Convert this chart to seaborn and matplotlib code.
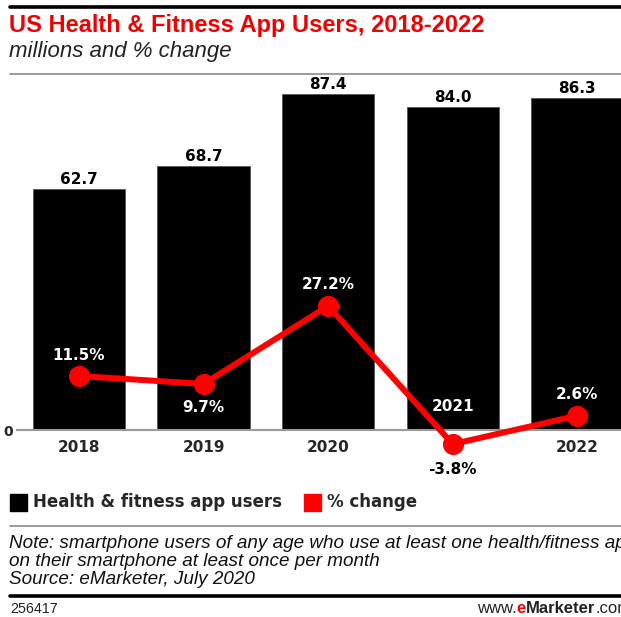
import matplotlib
matplotlib.use("Agg")
import matplotlib.pyplot as plt
import seaborn as sns
import pandas as pd
from matplotlib.lines import Line2D
from matplotlib.patches import Rectangle

years = ["2018", "2019", "2020", "2021", "2022"]
users = [62.7, 68.7, 87.4, 84.0, 86.3]
pct_change = [11.5, 9.7, 27.2, -3.8, 2.6]
user_labels = ["62.7", "68.7", "87.4", "84.0", "86.3"]
pct_labels = ["11.5%", "9.7%", "27.2%", "-3.8%", "2.6%"]
title = "US Health & Fitness App Users, 2018-2022"
subtitle = "millions and % change"
legend_labels = ["Health & fitness app users", "% change"]
notes = ["Note: smartphone users of any age who use at least one health/fitness app",
         "on their smartphone at least once per month",
         "Source: eMarketer, July 2020"]
footer_id = "256417"
footer_site = ["www.", "e", "Marketer", ".com"]

sns.set_theme(style="white")
plt.rcParams['font.family'] = ['DejaVu Sans']

W, H = 621, 617
fig = plt.figure(figsize=(W / 100, H / 100), dpi=100)
fig.patch.set_facecolor("white")

def fx(x):
    return x / W

def fy(y):
    return 1 - y / H

RED = "#ff0000"

# axes: x from -0.5..4.5 maps to px 16.7..639 ; y baseline at 430
left_px, right_px = 16.7, 639.7
bottom_px, top_px = 430, 65
ax = fig.add_axes([fx(left_px), fy(bottom_px), (right_px - left_px) / W, (bottom_px - top_px) / H])
ymax = (bottom_px - top_px) / 3.845
df = pd.DataFrame({"year": years, "users": users, "pct": pct_change})
sns.barplot(data=df, x="year", y="users", color="black", saturation=1, width=0.74, ax=ax,
            edgecolor="#555555", linewidth=0.6)
ax.set_xlim(-0.5, 4.5)
ax.set_ylim(0, ymax)
for s in ["top", "right", "left"]:
    ax.spines[s].set_visible(False)
ax.spines["bottom"].set_color("#9a9a9a")
ax.spines["bottom"].set_linewidth(1.5)
ax.set_yticks([0])
ax.set_yticklabels(["0"], fontweight="bold", fontsize=10)
ax.tick_params(axis="y", length=0, pad=3)
ax.set_xlabel("")
ax.set_ylabel("")
ax.set_xticks(range(len(years)))
ax.set_xticklabels([y if y != "2021" else "" for y in years], fontweight="bold", fontsize=11)
ax.tick_params(axis="x", length=0, pad=7)

for i, (v, lab) in enumerate(zip(users, user_labels)):
    ax.annotate(lab, (i, v), xytext=(0, 7), textcoords="offset points",
                ha="center", va="center", fontsize=11, fontweight="bold", color="black")

# secondary axis for % change
ax2 = ax.twinx()
px_per_pct = 4.457
zero_pct_px = 427.2
ax2.set_ylim(-(bottom_px - zero_pct_px) / px_per_pct, (zero_pct_px - top_px) / px_per_pct)
sns.pointplot(data=df, x="year", y="pct", color=RED, ax=ax2, markers="o",
              markersize=12, linewidth=4.3, errorbar=None)
for ln in ax2.lines:
    ln.set_clip_on(False)
    ln.set_solid_capstyle("round")
    ln.set_solid_joinstyle("round")
for c in ax2.collections:
    c.set_clip_on(False)
ax2.set_xlim(-0.5, 4.5)
ax2.axis("off")

offsets = [15, -17, 15.5, -18, 15]
colors = ["white", "white", "white", "black", "white"]
for i, (v, lab) in enumerate(zip(pct_change, pct_labels)):
    ax2.annotate(lab, (i, v), xytext=(0, offsets[i]), textcoords="offset points",
                 ha="center", va="center", fontsize=11, fontweight="bold", color=colors[i],
                 annotation_clip=False)

# 2021 tick label sits inside its bar
i21 = years.index("2021")
ax.annotate(years[i21], (i21, 0), xytext=(0, 17), textcoords="offset points",
            ha="center", va="center", fontsize=11, fontweight="bold", color="white")

# rules
fig.add_artist(Line2D([fx(10), 1], [fy(6.5), fy(6.5)], color="black", linewidth=2.6))
fig.add_artist(Line2D([fx(10), 1], [fy(74), fy(74)], color="#9c9c9c", linewidth=1.4))
fig.add_artist(Line2D([fx(10), 1], [fy(526), fy(526)], color="#9c9c9c", linewidth=1.4))
fig.add_artist(Line2D([fx(10), 1], [fy(596), fy(596)], color="black", linewidth=2.6))

# titles
fig.text(fx(9), fy(32), title, color="#f00000", fontsize=17, fontweight="bold",
         family="Liberation Sans", ha="left", va="baseline")
fig.text(fx(9), fy(57), subtitle, color="#222222", fontsize=16, style="italic",
         family="Liberation Sans", ha="left", va="baseline")

# legend
fig.add_artist(Rectangle((fx(10), fy(511)), 17 / W, 17 / H, color="black", transform=fig.transFigure))
fig.text(fx(33), fy(502), legend_labels[0], fontsize=12, fontweight="bold", ha="left", va="center")
fig.add_artist(Rectangle((fx(304), fy(511)), 17 / W, 17 / H, color=RED, transform=fig.transFigure))
fig.text(fx(327), fy(502), legend_labels[1], fontsize=12, fontweight="bold", ha="left", va="center")

for k, line in enumerate(notes):
    fig.text(fx(9), fy(548 + 18 * k), line, fontsize=13.6, style="italic", family="Liberation Sans",
             ha="left", va="baseline", color="#111111")

fig.text(fx(10), fy(613), footer_id, fontsize=10.3, family="Liberation Sans", ha="left", va="baseline",
         color="#222222")

# footer site text placed piece by piece
renderer = fig.canvas.get_renderer()
x = 477
styles = [dict(color="#222222"), dict(color=RED, fontweight="bold"),
          dict(color="#222222", fontweight="bold"), dict(color="#222222")]
for part, st in zip(footer_site, styles):
    t = fig.text(fx(x), fy(613), part, fontsize=12, family="Liberation Sans", ha="left",
                 va="baseline", **st)
    bb = t.get_window_extent(renderer=renderer)
    x += bb.width

fig.savefig("out.png", dpi=100, facecolor="white")
